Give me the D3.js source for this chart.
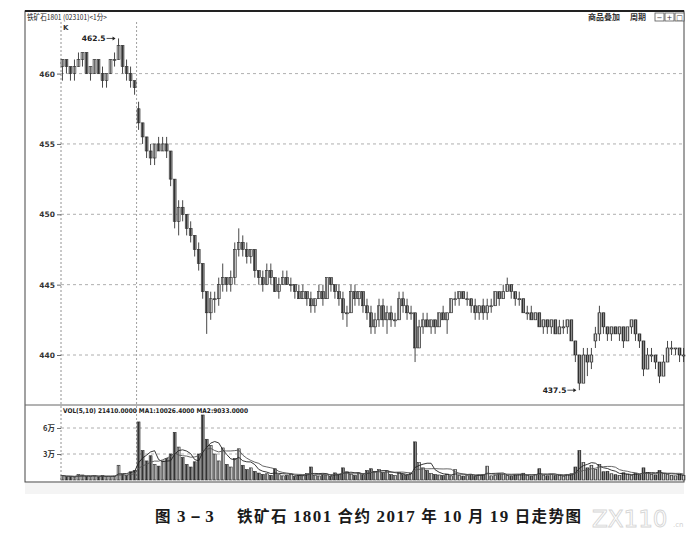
<!DOCTYPE html>
<html><head><meta charset="utf-8">
<script src="https://cdn.jsdelivr.net/npm/d3@7"></script>
<style>body{margin:0;background:#fff;} svg{display:block;}</style>
</head><body><svg id="c" width="700" height="536"></svg>
<script>
// ---- data (1-minute bars) ----
const opens=[460.5,461.0,460.5,460.0,460.5,461.0,461.5,460.0,460.0,461.0,460.0,459.5,460.0,461.0,461.0,462.0,460.5,460.0,459.5,
457.5,456.5,455.5,454.5,454.0,455.0,454.5,455.0,454.5,452.5,
449.5,450.5,450.0,449.0,448.5,447.5,446.5,444.5,443.0,444.0,
444.0,445.0,445.5,445.0,445.5,447.5,448.0,447.5,447.0,447.5,
446.0,445.5,445.0,446.0,445.5,444.5,445.0,445.5,445.0,445.0,
444.5,444.0,444.5,444.0,443.5,444.0,444.5,444.0,445.5,445.0,
444.5,444.0,443.0,443.0,444.5,444.0,444.5,443.5,443.0,442.0,
442.5,443.5,442.5,443.0,442.5,442.5,444.0,443.5,443.0,443.0,
440.5,442.0,442.5,442.0,442.5,442.0,443.0,442.5,443.0,444.0,
444.0,444.5,444.0,444.0,443.5,443.0,443.5,443.0,443.5,443.5,
444.5,444.0,444.5,445.0,444.5,444.0,444.0,443.0,443.0,442.5,
443.0,442.0,442.5,442.0,442.5,441.5,442.0,442.0,442.5,441.0,
440.0,438.0,440.0,439.5,441.0,441.5,443.0,442.0,441.5,442.0,
441.5,442.0,441.0,442.0,442.5,441.5,441.0,439.0,440.0,440.0,
439.5,438.5,439.5,440.5,440.5,440.5,440.0];
const highs=[461.0,461.0,460.5,461.0,461.5,461.5,461.5,460.5,461.0,461.0,460.5,460.0,461.0,461.5,462.5,462.0,461.0,460.5,459.5,
458.0,456.5,455.5,455.0,455.0,455.5,455.5,455.5,454.5,452.5,
451.0,451.0,450.0,449.5,448.5,448.0,446.5,444.5,444.5,444.5,
445.5,446.5,445.5,446.0,448.0,449.0,448.5,448.0,447.5,447.5,
446.0,446.0,446.5,446.5,445.5,445.5,446.0,446.0,445.5,445.0,
445.0,445.0,444.5,444.5,444.0,445.0,445.0,445.5,445.5,445.0,
445.0,444.5,443.5,445.0,445.0,444.5,444.5,444.0,443.5,443.0,
444.0,444.0,443.5,443.5,443.0,444.5,444.5,444.0,443.5,443.0,
442.5,443.0,443.0,442.5,442.5,443.0,443.5,443.0,444.0,444.5,
444.5,444.5,444.5,444.0,444.0,443.5,444.0,444.0,444.0,444.5,
444.5,445.0,445.5,445.0,444.5,444.5,444.0,443.5,443.5,443.0,
443.0,442.5,442.5,442.5,442.5,442.5,442.5,442.5,442.5,441.0,
440.0,440.5,440.5,440.5,442.0,443.5,443.0,442.0,442.0,442.0,
442.0,442.0,442.0,442.5,442.5,441.5,441.0,440.5,440.5,440.0,
439.5,440.0,441.0,441.0,440.5,440.5,440.5];
const lows=[459.5,460.0,459.5,459.5,460.5,460.5,460.0,459.5,460.0,460.0,459.0,459.0,460.0,460.5,461.0,460.0,459.5,459.0,458.5,
456.0,455.0,454.0,453.5,453.5,454.5,454.5,454.0,452.0,449.0,
448.5,449.5,448.5,448.0,447.0,446.0,444.0,441.5,442.5,443.0,
443.5,444.5,444.5,444.5,445.0,447.0,447.0,446.5,446.5,445.5,
445.0,444.5,445.0,445.0,444.5,444.0,445.0,445.0,444.5,444.0,
444.0,444.0,443.5,443.0,443.0,444.0,443.5,444.0,444.5,444.0,
443.5,442.5,442.0,443.0,443.5,443.5,443.0,442.5,441.5,441.5,
442.0,442.0,441.5,442.0,442.0,442.5,443.0,442.5,442.5,439.5,
440.5,441.5,442.0,441.5,441.5,442.0,442.5,441.5,443.0,443.5,
443.5,444.0,443.5,443.0,442.5,442.5,442.5,442.5,443.0,443.5,
443.5,444.0,444.5,444.0,443.5,443.5,443.0,442.5,442.5,442.5,
442.0,441.5,441.5,441.5,441.5,441.5,441.5,441.5,441.0,439.5,
437.5,438.0,438.5,439.0,440.5,441.0,441.5,441.0,441.0,441.5,
441.0,440.5,441.0,441.5,441.0,440.5,438.5,439.0,439.5,439.0,
438.0,438.5,439.5,440.0,440.0,439.5,439.5];
const closes=[461.0,460.5,460.0,460.5,461.0,461.5,460.0,460.5,461.0,460.0,459.5,460.0,461.0,461.0,462.0,460.5,460.0,459.5,459.0,
456.5,455.5,454.5,454.0,455.0,454.5,455.0,454.5,452.5,449.5,
450.5,450.0,449.0,448.5,447.5,446.5,444.5,443.0,444.0,444.0,
445.0,445.5,445.0,445.5,447.5,448.0,447.5,447.0,447.5,446.0,
445.5,445.0,446.0,445.5,444.5,445.0,445.5,445.0,445.0,444.5,
444.0,444.5,444.0,443.5,444.0,444.5,444.0,445.5,445.0,444.5,
444.0,443.0,443.0,444.5,444.0,444.5,443.5,443.0,442.0,442.5,
443.5,442.5,443.0,442.5,442.5,444.0,443.5,443.0,443.0,440.5,
442.0,442.5,442.0,442.5,442.0,443.0,442.5,443.0,444.0,444.0,
444.5,444.0,444.0,443.5,443.0,443.5,443.0,443.5,443.5,444.5,
444.0,444.5,445.0,444.5,444.0,444.0,443.0,443.0,442.5,443.0,
442.0,442.5,442.0,442.5,441.5,442.0,442.0,442.5,441.0,440.0,
438.0,440.0,439.5,440.0,441.5,443.0,442.0,441.5,442.0,441.5,
442.0,441.0,442.0,442.5,441.5,441.0,439.0,440.0,440.0,439.5,
438.5,439.5,440.5,440.5,440.5,440.0,440.0];
const volumes=[5200,3800,4100,3500,6200,5800,4300,3900,4700,3600,5100,4200,3800,4500,17000,6800,5200,9500,11000,
67000,34000,22000,28000,18000,16000,22000,25000,30000,55000,
38000,26000,18000,15000,21000,30000,75000,47000,40000,30000,
22000,37000,18000,15000,25000,36000,17000,12000,14000,10000,
8000,6500,7200,5400,13000,6100,4800,5300,6900,4200,5600,4800,7300,15000,5200,4700,6100,5800,4300,8200,6400,14000,
9500,6800,5200,7400,6100,11000,13000,9800,12000,8500,10500,6300,5100,8800,6200,5500,7900,
44000,20000,14000,11000,7600,6400,5800,5200,6900,4800,12000,5400,
4600,5100,6300,4400,5900,6200,16000,4800,5500,7100,6800,5300,4700,5900,6400,7800,5200,4600,6100,
13000,5500,4900,6300,5100,5800,4400,6600,7200,15000,34000,20000,14000,17000,
12000,18000,9500,10000,7200,6100,5400,8300,6800,5200,7400,6000,14000,8800,6500,5900,11000,7600,6200,5400,4800,6900,5400];
const priceTicks=[440,445,450,455,460];
const volTicks=[30000,60000];
const volTickLabels=["3万","6万"];
const sessionBreak=19; // first bar after the dashed separator
const titleText="铁矿石1801 (023101)<1分>";
const volLabel="VOL(5,10) 21410.0000 MA1:10026.4000 MA2:9033.0000";
const maPeriods=[5,10];

// ---- drawing ----
const svg=d3.select("#c");
const N=closes.length;
const bars=d3.range(N).map(i=>({i,o:opens[i],h:highs[i],l:lows[i],c:closes[i],v:volumes[i]}));
const L=61,R=685,frameL=25,frameR=684,frameT=11,frameB=482,sep=405;
const x=d3.scaleBand().domain(d3.range(N)).range([L,R]).paddingInner(0.28);
const y=d3.scaleLinear().domain([440,460]).range([355,73.6]);
const vy=d3.scaleLinear().domain([0,60000]).range([480,428]);
const cx=i=>x(i)+x.bandwidth()/2;
const fontUI="'Noto Sans CJK SC','DejaVu Sans',sans-serif";

const defs=svg.append("defs");
const pu=defs.append("pattern").attr("id","hu").attr("patternUnits","userSpaceOnUse").attr("width",2).attr("height",3);
pu.append("rect").attr("width",2).attr("height",3).attr("fill","#d4d4d4");
pu.append("rect").attr("width",1).attr("height",3).attr("fill","#6a6a6a");
const pd=defs.append("pattern").attr("id","hd").attr("patternUnits","userSpaceOnUse").attr("width",2).attr("height",3);
pd.append("rect").attr("width",2).attr("height",3).attr("fill","#8a8a8a");
pd.append("rect").attr("width",1).attr("height",3).attr("fill","#333");

svg.append("rect").attr("width",700).attr("height",536).attr("fill","#fff");
// scan shadow below frame
svg.append("rect").attr("x",frameL).attr("y",frameB+1).attr("width",frameR-frameL).attr("height",11).attr("fill","#ececec").attr("opacity",0.6);

// frame
svg.append("rect").attr("x",frameL).attr("y",frameT).attr("width",frameR-frameL).attr("height",frameB-frameT)
  .attr("fill","none").attr("stroke","#444").attr("stroke-width",1);
svg.append("line").attr("x1",frameL).attr("x2",frameR).attr("y1",frameT).attr("y2",frameT).attr("stroke","#222").attr("stroke-width",2);
svg.append("text").attr("x",27).attr("y",19.5).attr("font-family",fontUI).attr("font-size",7.5).attr("fill","#222")
  .attr("textLength",80).attr("lengthAdjust","spacingAndGlyphs").text(titleText);
// right-side buttons
svg.append("text").attr("x",588).attr("y",19.5).attr("font-family",fontUI).attr("font-size",8).attr("font-weight","bold").attr("fill","#333").text("商品叠加");
svg.append("text").attr("x",630).attr("y",19.5).attr("font-family",fontUI).attr("font-size",8).attr("font-weight","bold").attr("fill","#333").text("周期");
const btn=svg.append("g");
["−","+","□"].forEach((s,k)=>{
  const bx=655+k*10;
  btn.append("rect").attr("x",bx).attr("y",13).attr("width",9).attr("height",8).attr("fill","#fff").attr("stroke","#555").attr("stroke-width",0.8);
  btn.append("text").attr("x",bx+4.5).attr("y",20).attr("text-anchor","middle").attr("font-family","DejaVu Sans").attr("font-size",7).attr("fill","#333").text(s);
});

// grid
const grid=svg.append("g").attr("stroke","#9a9a9a").attr("stroke-width",0.8).attr("stroke-dasharray","3,3");
priceTicks.forEach(t=>grid.append("line").attr("x1",L).attr("x2",frameR).attr("y1",y(t)).attr("y2",y(t)));
volTicks.forEach(t=>grid.append("line").attr("x1",L).attr("x2",frameR).attr("y1",vy(t)).attr("y2",vy(t)));
const breakX=(x(sessionBreak-1)+x.bandwidth()+x(sessionBreak))/2;
grid.append("line").attr("x1",L).attr("x2",L).attr("y1",22).attr("y2",frameB).attr("stroke","#777").attr("stroke-dasharray","2,2");
grid.append("line").attr("x1",breakX).attr("x2",breakX).attr("y1",22).attr("y2",frameB).attr("stroke","#888").attr("stroke-dasharray","2,2");
svg.append("line").attr("x1",frameL).attr("x2",frameR).attr("y1",sep).attr("y2",sep).attr("stroke","#666").attr("stroke-width",1);

// axes
const ya=svg.append("g").attr("transform",`translate(${L},0)`)
  .call(d3.axisLeft(y).tickValues(priceTicks).tickSize(4).tickPadding(2).tickFormat(d3.format("d")));
ya.select(".domain").remove();
ya.selectAll("line").attr("stroke","#666");
ya.selectAll("text").attr("font-family","DejaVu Sans").attr("font-size",7.5).attr("font-weight","bold").attr("fill","#333");
const va=svg.append("g").attr("transform",`translate(${L},0)`)
  .call(d3.axisLeft(vy).tickValues(volTicks).tickSize(4).tickPadding(2).tickFormat((d,k)=>volTickLabels[k]));
va.select(".domain").remove();
va.selectAll("line").attr("stroke","#666");
va.selectAll("text").attr("font-family",fontUI).attr("font-size",7.5).attr("font-weight","bold").attr("fill","#333");

svg.append("text").attr("x",63).attr("y",30).attr("font-family","DejaVu Sans").attr("font-size",7).attr("font-weight","bold").attr("fill","#333").text("K");

// candles
const cg=svg.append("g");
cg.selectAll("line.w").data(bars).join("line").attr("class","w")
  .attr("x1",d=>cx(d.i)).attr("x2",d=>cx(d.i)).attr("y1",d=>y(d.h)).attr("y2",d=>y(d.l))
  .attr("stroke","#333").attr("stroke-width",0.9);
cg.selectAll("rect").data(bars).join("rect")
  .attr("x",d=>x(d.i)).attr("width",x.bandwidth())
  .attr("y",d=>y(Math.max(d.o,d.c)))
  .attr("height",d=>Math.max(1,Math.abs(y(d.o)-y(d.c))))
  .attr("fill",d=>d.c>=d.o?"url(#hu)":"url(#hd)")
  .attr("stroke","#2a2a2a").attr("stroke-width",0.6);

// extreme labels
function extremeLabel(idx,val){
  const px=cx(idx)-3, py=y(val);
  const g=svg.append("g").attr("fill","#222").attr("stroke","#222");
  g.append("line").attr("x1",px-9).attr("x2",px-1).attr("y1",py).attr("y2",py).attr("stroke-width",0.8);
  g.append("path").attr("d",`M${px},${py}L${px-3},${py-2}L${px-3},${py+2}Z`).attr("stroke","none");
  g.append("text").attr("x",px-10).attr("y",py+3).attr("text-anchor","end").attr("stroke","none")
    .attr("font-family","DejaVu Sans").attr("font-size",7.5).attr("font-weight","bold").text(val.toFixed(1));
}
const hiIdx=d3.maxIndex(highs), loIdx=d3.minIndex(lows);
extremeLabel(hiIdx,highs[hiIdx]);
extremeLabel(loIdx,lows[loIdx]);

// volume
const vg=svg.append("g");
vg.selectAll("rect").data(bars).join("rect")
  .attr("x",d=>x(d.i)).attr("width",x.bandwidth())
  .attr("y",d=>vy(d.v)).attr("height",d=>vy(0)-vy(d.v))
  .attr("fill",d=>d.c>=d.o?"url(#hu)":"url(#hd)")
  .attr("stroke","#2a2a2a").attr("stroke-width",0.6);
maPeriods.forEach((p,k)=>{
  const ma=bars.map((d,i)=>({i,m:d3.mean(volumes.slice(Math.max(0,i-p+1),i+1))}));
  svg.append("path").datum(ma)
    .attr("d",d3.line().x(d=>cx(d.i)).y(d=>vy(d.m)).curve(d3.curveLinear))
    .attr("fill","none").attr("stroke",k===0?"#222":"#555").attr("stroke-width",0.9);
});
svg.append("text").attr("x",63).attr("y",413).attr("font-family","DejaVu Sans").attr("font-size",6.5).attr("font-weight","bold").attr("fill","#222")
  .attr("textLength",185).attr("lengthAdjust","spacingAndGlyphs").text(volLabel);

// caption
const cap=svg.append("text").attr("x",155).attr("y",522).attr("font-weight","bold").attr("font-size",16).attr("fill","#1a1a1a");
const parts=[["图 ",1],["3－3",0],["　 铁矿石 ",1],["1801",0],[" 合约 ",1],["2017",0],[" 年 ",1],["10",0],[" 月 ",1],["19",0],[" 日走势图",1]];
parts.forEach(([t,cjk])=>cap.append("tspan").attr("font-family",cjk?"'Noto Sans CJK SC',sans-serif":"'Liberation Serif',serif").attr("font-size",cjk?15.5:17).text(t));
cap.attr("textLength",426).attr("lengthAdjust","spacing");
// watermark
svg.append("text").attr("x",592).attr("y",527).attr("font-family","'DejaVu Sans',sans-serif").attr("font-size",23)
  .attr("fill","none").attr("stroke","#d6d6d6").attr("stroke-width",0.9).text("ZX110");
svg.append("text").attr("x",673).attr("y",527).attr("font-family","'DejaVu Sans',sans-serif").attr("font-size",7)
  .attr("fill","#d0d0d0").text(".cn");
</script></body></html>
